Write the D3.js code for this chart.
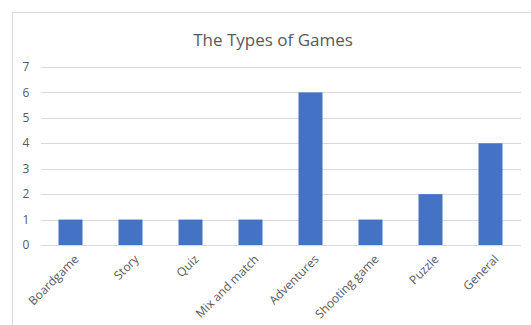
<!DOCTYPE html>
<html>
<head>
<script src="https://d3js.org/d3.v7.min.js"></script>
<style>
  body { margin: 0; background: #fff; }
  text { font-family: "Open Sans", "Liberation Sans", sans-serif; fill: #595959; }
</style>
</head>
<body>
<svg id="chart"></svg>
<script>
// data
var categories = ["Boardgame", "Story", "Quiz", "Mix and match", "Adventures", "Shooting game", "Puzzle", "General"];
var counts = [1, 1, 1, 1, 6, 1, 2, 4];
var yTicks = [0, 1, 2, 3, 4, 5, 6, 7];

var width = 531, height = 325;
var svg = d3.select("#chart").attr("width", width).attr("height", height);

// chart frame (runs off the right and bottom edges)
svg.append("path")
    .attr("d", "M12.5," + height + "V12.5H" + width)
    .attr("fill", "none")
    .attr("stroke", "#d9d9d9");

svg.append("text")
    .attr("x", 273)
    .attr("y", 46)
    .attr("text-anchor", "middle")
    .style("font-size", "17px")
    .text("The Types of Games");

var x = d3.scaleBand().domain(categories).range([40.5, 520.5]).paddingInner(0.6).paddingOuter(0.3);
var y = d3.scaleLinear().domain([0, 7]).range([245, 67]);

// gridlines
svg.append("g").selectAll("line")
    .data(yTicks)
    .enter().append("line")
    .attr("x1", 41).attr("x2", 521)
    .attr("y1", function(d) { return Math.round(y(d)) + 0.5; })
    .attr("y2", function(d) { return Math.round(y(d)) + 0.5; })
    .attr("stroke", "#d9d9d9");

// y labels
svg.append("g").selectAll("text")
    .data(yTicks)
    .enter().append("text")
    .attr("x", 26)
    .attr("y", function(d) { return y(d); })
    .attr("dy", "0.35em")
    .attr("text-anchor", "middle")
    .style("font-size", "12px")
    .text(function(d) { return d; });

// bars
svg.append("g").selectAll("rect")
    .data(categories)
    .enter().append("rect")
    .attr("x", function(d) { return x(d); })
    .attr("width", x.bandwidth())
    .attr("y", function(d, i) { return y(counts[i]); })
    .attr("height", function(d, i) { return y(0) - y(counts[i]); })
    .attr("fill", "#4472c4");

// category labels, rotated
svg.append("g").selectAll("text")
    .data(categories)
    .enter().append("text")
    .attr("transform", function(d) {
        return "translate(" + (x(d) + x.bandwidth() / 2 + 6) + "," + 257 + ") rotate(-45)";
    })
    .attr("text-anchor", "end")
    .attr("dy", "0.35em")
    .style("font-size", "12px")
    .text(function(d) { return d; });
</script>
</body>
</html>
